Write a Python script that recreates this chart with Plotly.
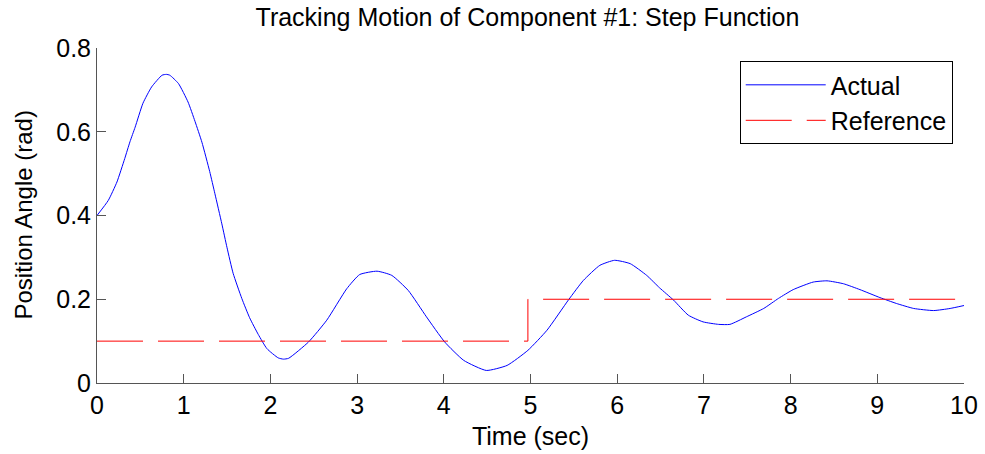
import plotly.graph_objects as go

# ---- data ----
t_actual = [0, 0.13, 0.23, 0.32, 0.38, 0.44, 0.53, 0.63, 0.75, 0.80, 0.84, 0.94, 1.05, 1.13,
            1.21, 1.30, 1.36, 1.44, 1.50, 1.57, 1.67, 1.76, 1.86, 1.96, 2.09, 2.15, 2.21,
            2.44, 2.65, 2.88, 3.03, 3.23, 3.40, 3.59, 3.80, 4.01, 4.23, 4.49, 4.73, 4.97,
            5.19, 5.44, 5.61, 5.80, 5.97, 6.15, 6.34, 6.49, 6.65, 6.82, 6.99, 7.17, 7.30,
            7.49, 7.69, 7.86, 8.03, 8.26, 8.42, 8.61, 8.80, 9.03, 9.22, 9.42, 9.65, 9.84, 10.0]
y_actual = [0.400, 0.436, 0.480, 0.536, 0.576, 0.611, 0.668, 0.707, 0.735, 0.737, 0.735, 0.715,
            0.671, 0.625, 0.575, 0.505, 0.452, 0.380, 0.323, 0.262, 0.202, 0.156, 0.116, 0.082,
            0.060, 0.057, 0.059, 0.098, 0.150, 0.225, 0.259, 0.267, 0.257, 0.221, 0.158, 0.098,
            0.054, 0.030, 0.042, 0.078, 0.126, 0.199, 0.245, 0.281, 0.293, 0.285, 0.257, 0.227,
            0.198, 0.162, 0.146, 0.140, 0.140, 0.158, 0.178, 0.202, 0.223, 0.241, 0.244, 0.237,
            0.223, 0.204, 0.190, 0.178, 0.173, 0.178, 0.185]

t_ref = [0, 4.97, 4.97, 10.0]
y_ref = [0.1, 0.1, 0.2, 0.2]

x_ticks = [0, 1, 2, 3, 4, 5, 6, 7, 8, 9, 10]
y_ticks = [0, 0.2, 0.4, 0.6, 0.8]
y_tick_text = ["0", "0.2", "0.4", "0.6", "0.8"]

FONT = "Arial, 'Liberation Sans', sans-serif"
L, R, T, B = 97, 21, 48, 71
W, H = 985, 454
plot_w = W - L - R

fig = go.Figure()
fig.add_trace(go.Scatter(x=t_actual, y=y_actual, mode="lines", name="Actual",
                         line=dict(color="#0000FF", width=1, shape="spline", smoothing=0.5)))
fig.add_trace(go.Scatter(x=t_ref, y=y_ref, mode="lines", name="Reference",
                         line=dict(color="#FF0000", width=1, dash="46px,15px")))

axis_common = dict(showgrid=False, zeroline=False, showline=True, linecolor="#555555",
                   linewidth=1, ticks="inside", ticklen=9, tickcolor="#555555",
                   tickfont=dict(family=FONT, size=25, color="#000000"), mirror=False,
                   automargin=False)

fig.update_layout(
    width=W, height=H,
    margin=dict(l=L, r=R, t=T, b=B),
    paper_bgcolor="white", plot_bgcolor="white",
    font=dict(family=FONT, size=25, color="#000000"),
    title=dict(text="Tracking Motion of Component #1: Step Function", x=0.5355, xanchor="center",
               y=1 - 17 / H, yref="container", yanchor="middle",
               font=dict(family=FONT, size=25, color="#000000")),
    xaxis=dict(range=[0, 10], tickvals=x_ticks, title=dict(text="Time (sec)", standoff=9,
               font=dict(family=FONT, size=25)), **axis_common),
    yaxis=dict(range=[0, 0.8], tickvals=y_ticks, ticktext=y_tick_text, **axis_common),
    legend=dict(x=0.987, y=0.961, xanchor="right", yanchor="top", bgcolor="white",
                bordercolor="#000000", borderwidth=1, itemwidth=80,
                font=dict(family=FONT, size=25, color="#000000")),
    showlegend=True,
    annotations=[dict(text="Position Angle (rad)", textangle=-90, showarrow=False,
                      xref="paper", yref="paper", x=(23 - L) / plot_w, y=0.5,
                      xanchor="center", yanchor="middle",
                      font=dict(family=FONT, size=24, color="#000000"))],
)

fig.write_html("out.html")
